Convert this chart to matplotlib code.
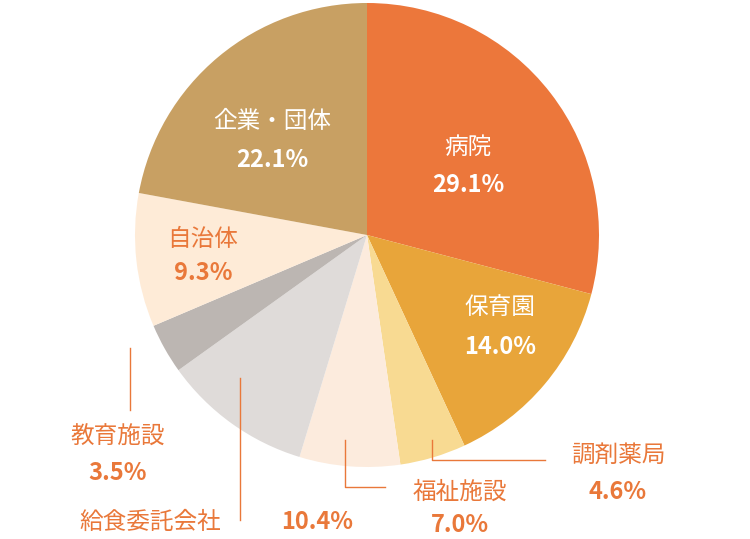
import matplotlib
matplotlib.use("Agg")
import matplotlib.pyplot as plt

labels = ["病院", "保育園", "調剤薬局", "福祉施設", "給食委託会社", "教育施設", "自治体", "企業・団体"]
values = [29.1, 14.0, 4.6, 7.0, 10.4, 3.5, 9.3, 22.1]
colors = ["#EC773B", "#E8A53A", "#F8DA92", "#FCEBDD", "#DFDBD9", "#BCB6B2", "#FEEBD7", "#C8A063"]

plt.rcParams['font.family'] = ['Noto Sans CJK JP', 'DejaVu Sans']
W, H = 750, 539
fig = plt.figure(figsize=(7.5, 5.39), dpi=100)
ax = fig.add_axes([(367-232)/W, (304-232)/H, 464/W, 464/H])
ax.pie(values, colors=colors, startangle=90, counterclock=False,
       wedgeprops=dict(linewidth=0))
ax.set_aspect('equal')
ax.set_xlim(-1, 1); ax.set_ylim(-1, 1)

OR = "#E9783A"
def t(x, y, s, c, size=17, weight='normal', ha='center'):
    fig.text(x/W, 1-y/H, s, color=c, fontsize=size, weight=weight, ha=ha, va='center')

def lab(x, y1, y2, i, c, ha='center'):
    t(x, y1, labels[i], c, ha=ha)
    t(x, y2, f"{values[i]:.1f}%", c, weight='bold', ha=ha)

lab(468, 147, 185, 0, "white")
lab(500, 308, 347, 1, "white")
lab(618, 455, 492, 2, OR)
lab(460, 492, 525, 3, OR)
t(150, 522, labels[4], OR)
t(317, 522, f"{values[4]:.1f}%", OR, weight='bold')
lab(118, 437, 473, 5, OR)
lab(203, 240, 273, 6, OR)
lab(272, 122, 160, 7, "white")

def line(xs, ys):
    fig.add_artist(plt.Line2D([x/W for x in xs], [1-y/H for y in ys], color=OR, lw=1))
line([432, 432, 545], [440, 460, 460])
line([345, 345, 385], [440, 487, 487])
line([240, 240], [378, 520])
line([130, 130], [348, 410])

fig.savefig("out.png", dpi=100)
